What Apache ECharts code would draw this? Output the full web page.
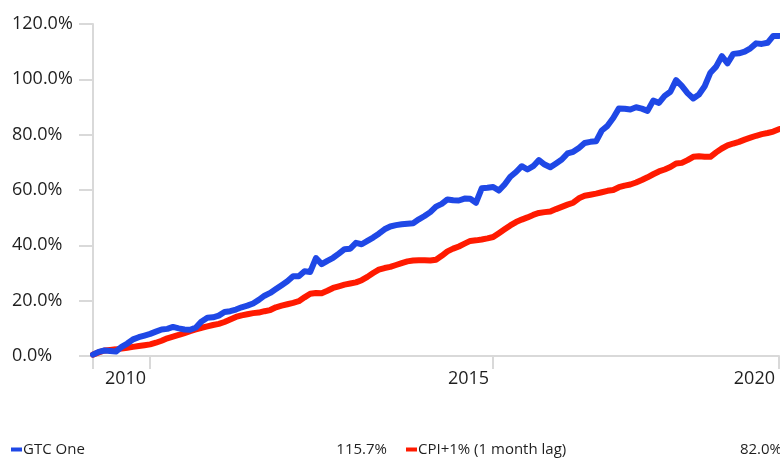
<!DOCTYPE html>
<html>
<head>
<meta charset="utf-8">
<script src="https://cdn.jsdelivr.net/npm/echarts@6/dist/echarts.min.js"></script>
<style>html,body{margin:0;padding:0;background:#fff;}#chart{width:780px;height:459px;}</style>
</head>
<body>
<div id="chart"></div>
<script>
// Monthly observations (index 0 = start of series)
const gtcOne = [0.5,1.5,2.0,1.8,1.6,3.3,4.5,6.0,6.8,7.4,8.0,8.8,9.6,9.8,10.5,10.0,9.6,9.5,10.3,12.5,
13.8,14.0,14.6,15.9,16.2,16.8,17.6,18.2,19.0,20.3,21.8,22.8,24.2,25.6,27.0,28.8,28.8,30.6,30.4,35.4,
33.2,34.4,35.5,37.0,38.6,38.8,40.9,40.4,41.6,42.8,44.2,45.8,46.8,47.3,47.6,47.8,48.0,49.4,50.6,52.0,
54.0,55.0,56.6,56.3,56.2,56.9,56.8,55.4,60.6,60.8,61.1,59.8,62.0,64.8,66.5,68.6,67.4,68.6,70.8,69.2,
68.2,69.6,71.0,73.2,73.8,75.2,77.0,77.4,77.6,81.5,83.2,86.0,89.5,89.4,89.1,89.9,89.4,88.6,92.3,91.5,
94.0,95.5,99.7,97.6,95.0,93.1,94.5,97.5,102.4,104.6,108.4,105.8,109.2,109.4,110.0,111.2,113.0,112.8,113.2,115.7,
115.7];
const cpiPlus1 = [0.5,1.3,2.0,2.2,2.4,2.7,3.0,3.3,3.6,3.9,4.2,4.8,5.5,6.4,7.0,7.6,8.3,9.0,9.6,10.2,
10.7,11.2,11.6,12.3,13.2,14.1,14.7,15.1,15.5,15.7,16.2,16.6,17.6,18.2,18.7,19.2,19.8,21.2,22.5,22.8,
22.7,23.6,24.6,25.2,25.8,26.2,26.6,27.4,28.6,30.0,31.2,31.8,32.2,32.9,33.6,34.2,34.5,34.6,34.6,34.5,
34.8,36.2,37.8,38.8,39.6,40.6,41.6,41.8,42.1,42.5,43.0,44.4,45.8,47.2,48.4,49.3,50.1,51.0,51.7,52.0,
52.2,53.1,53.9,54.7,55.4,57.0,57.9,58.3,58.7,59.2,59.7,60.0,61.0,61.6,62.0,62.7,63.6,64.6,65.7,66.7,
67.4,68.3,69.6,69.8,70.8,72.0,72.2,72.0,72.0,73.6,75.0,76.1,76.8,77.4,78.2,78.9,79.6,80.2,80.6,81.1,
82.0];
const categories = gtcOne.map((_, i) => String(i));
const tickIndices = [0, 10, 70, 120];
const labelIndices = [10, 70, 120];
const tickLabels = ['2010', '2015', '2020'];
const yTicks = [0, 20, 40, 60, 80, 100, 120];
const seriesNames = ['GTC One', 'CPI+1% (1 month lag)'];

const axisGrey = '#d9d9d9';
const textColor = '#1f1f1f';
const chart = echarts.init(document.getElementById('chart'), null, {renderer: 'canvas'});
const lastVals = {};
lastVals[seriesNames[0]] = gtcOne[gtcOne.length - 1];
lastVals[seriesNames[1]] = cpiPlus1[cpiPlus1.length - 1];

function legendFor(name, left) {
  return {
    left: left, top: 437, width: 400,
    icon: 'rect', itemWidth: 11, itemHeight: 4,
    data: [name],
    formatter: (n) => '{n|' + n + '}{v|' + lastVals[n].toFixed(1) + '%}',
    textStyle: {
      color: textColor, fontSize: 15, fontFamily: 'Open Sans', padding: [0, 0, 0, -4],
      rich: {
        n: {width: 298, fontSize: 15, fontFamily: 'Open Sans', color: textColor, lineHeight: 18},
        v: {width: 66, align: 'right', fontSize: 15, fontFamily: 'Open Sans', color: textColor, lineHeight: 18}
      }
    }
  };
}

chart.setOption({
  animation: false,
  backgroundColor: '#fff',
  grid: {left: 93, right: 1, top: 24, height: 332},
  xAxis: {
    type: 'category',
    data: categories,
    boundaryGap: false,
    axisLine: {lineStyle: {color: axisGrey, width: 2}},
    axisTick: {
      show: true, length: 13,
      interval: (idx) => tickIndices.includes(idx),
      lineStyle: {color: axisGrey, width: 2}
    },
    axisLabel: {
      interval: (idx) => labelIndices.includes(idx),
      formatter: (v, idx) => { const k = labelIndices.indexOf(idx); return k >= 0 ? tickLabels[k] : ''; },
      align: 'right', padding: [0, 4, 0, 0], margin: 14,
      color: textColor, fontSize: 18, fontFamily: 'Open Sans'
    },
    splitLine: {show: false}
  },
  yAxis: {
    type: 'value',
    min: yTicks[0], max: yTicks[yTicks.length - 1], interval: 20,
    axisLine: {show: true, lineStyle: {color: axisGrey, width: 2}},
    axisTick: {show: true, length: 14, lineStyle: {color: axisGrey, width: 2}},
    axisLabel: {
      formatter: (v) => v.toFixed(1) + '%',
      align: 'left', margin: 81,
      color: textColor, fontSize: 18, fontFamily: 'Open Sans'
    },
    splitLine: {show: false}
  },
  legend: [legendFor(seriesNames[0], 6), legendFor(seriesNames[1], 401)],
  series: [
    {
      name: seriesNames[1], type: 'line', data: cpiPlus1, showSymbol: false, symbol: 'none',
      itemStyle: {color: '#ff1a00'},
      lineStyle: {color: '#ff1a00', width: 6, join: 'round', cap: 'round'}
    },
    {
      name: seriesNames[0], type: 'line', data: gtcOne, showSymbol: false, symbol: 'none',
      itemStyle: {color: '#1f48e6'},
      lineStyle: {color: '#1f48e6', width: 6, join: 'round', cap: 'round'}
    }
  ]
});
</script>
</body>
</html>
